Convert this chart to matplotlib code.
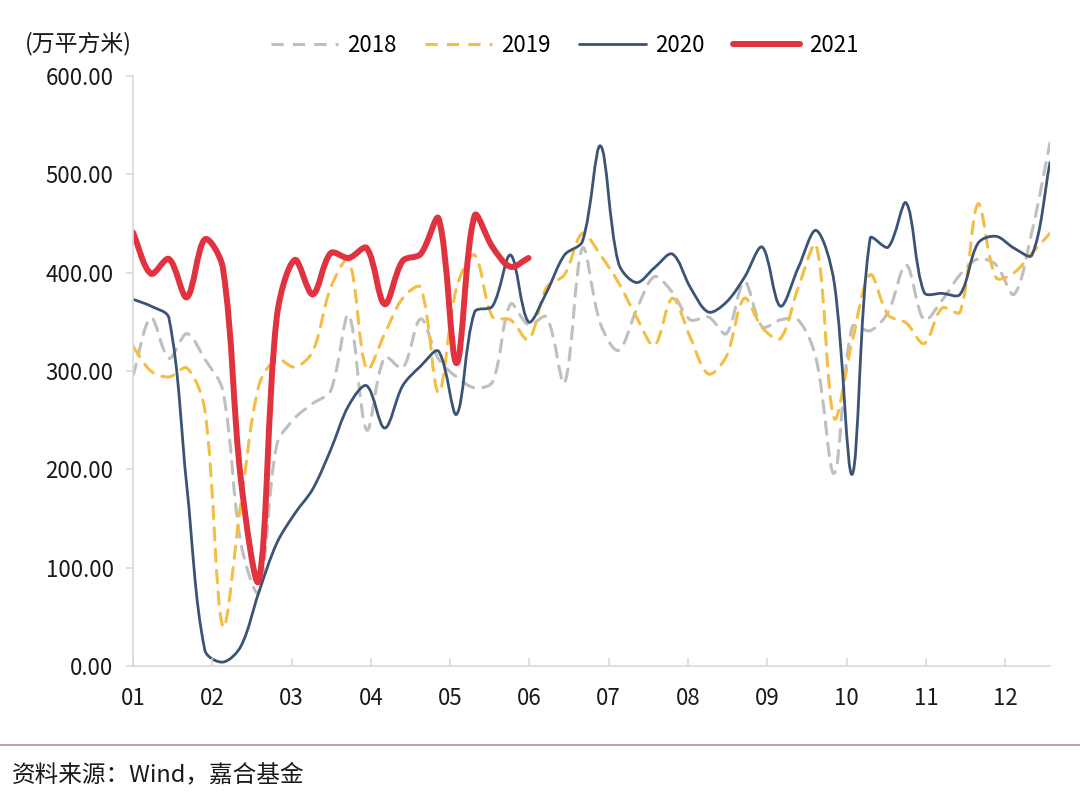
"""
plot.py

Weekly floor-area sales (万平方米), 2018-2021, smoothed lines as in the
original Excel chart. Saves out.png.
"""

import matplotlib
matplotlib.use("Agg")
import matplotlib.pyplot as plt
import numpy as np
from matplotlib.lines import Line2D
from matplotlib.patches import PathPatch
from matplotlib.path import Path

plt.rcParams["font.family"] = ["Noto Sans CJK SC", "DejaVu Sans"]

MONTH_LABELS = ["01", "02", "03", "04", "05", "06",
                "07", "08", "09", "10", "11", "12"]
WEEKS_PER_MONTH = 4.41
Y_TICKS = [0, 100, 200, 300, 400, 500, 600]

# weekly values
SALES_2018 = [295, 354, 313, 338, 312, 280, 125, 75, 225, 252,
              267, 280, 357, 240, 314, 303, 353, 312, 294, 283,
              289, 368, 347, 355, 288, 425, 348, 321, 362, 396,
              380, 352, 355, 338, 391, 345, 352, 352, 312, 196,
              345, 341, 360, 408, 352, 372, 398, 414, 408, 378,
              442, 532]
SALES_2019 = [325, 300, 294, 303, 260, 40, 165, 285, 312, 304,
              320, 385, 413, 302, 338, 374, 385, 278, 385, 418,
              355, 352, 332, 385, 398, 440, 418, 390, 355, 326,
              374, 334, 297, 315, 374, 344, 333, 385, 428, 252,
              330, 398, 357, 349, 328, 364, 360, 470, 395, 400,
              420, 440]
SALES_2020 = [373, 366, 354, 182, 16, 4, 20, 75, 125, 155,
              180, 220, 265, 285, 242, 285, 305, 320, 256, 360,
              366, 418, 350, 380, 418, 432, 529, 410, 390, 405,
              419, 385, 360, 370, 395, 426, 366, 405, 443, 390,
              195, 435, 426, 471, 380, 379, 378, 430, 437, 425,
              418, 512]
SALES_2021 = [441, 399, 414, 375, 434, 405, 190, 87, 355, 413,
              378, 420, 415, 425, 368, 412, 419, 455, 308, 458,
              426, 406, 415]

SERIES = [
    ("2018", SALES_2018, "#BFBFBF", 2.2, (0, (4, 3))),
    ("2019", SALES_2019, "#F4BE45", 2.2, (0, (4, 3))),
    ("2020", SALES_2020, "#3B5375", 2.0, "-"),
    ("2021", SALES_2021, "#E0323F", 4.3, "-"),
]

# rough pixel size of one week / one unit, used only to weight the smoothing
PX_PER_WEEK = 18.0
PX_PER_UNIT = 0.983


def smooth_path(values):
    """Bezier path through the weekly points, arms weighted by segment length."""
    y = np.asarray(values, dtype=float)
    pts = np.column_stack([np.arange(len(y), dtype=float), y])
    padded = np.vstack([pts[0], pts, pts[-1]])
    scale = np.array([PX_PER_WEEK, PX_PER_UNIT])
    seg = np.hypot(*((np.diff(padded, axis=0)) * scale).T)
    verts = [pts[0]]
    codes = [Path.MOVETO]
    for i in range(len(pts) - 1):
        p0, p1, p2, p3 = padded[i], padded[i + 1], padded[i + 2], padded[i + 3]
        d01, d12, d23 = seg[i], seg[i + 1], seg[i + 2]
        w1 = d12 / (d01 + d12) if d01 + d12 > 0 else 0.5
        w2 = d12 / (d12 + d23) if d12 + d23 > 0 else 0.5
        verts += [p1 + (p2 - p0) * w1 / 3, p2 - (p3 - p1) * w2 / 3, p2]
        codes += [Path.CURVE4] * 3
    return Path(verts, codes)


fig = plt.figure(figsize=(10.8, 7.98), dpi=100)
ax = fig.add_axes([0.1231, 0.1654, 0.8491, 0.7393])

handles = []
for label, values, color, lw, ls in SERIES:
    patch = PathPatch(smooth_path(values), fill=False, edgecolor=color,
                      linewidth=lw, linestyle=ls, capstyle="round",
                      joinstyle="round")
    ax.add_patch(patch)
    handles.append(Line2D([], [], color=color, linewidth=lw, linestyle=ls,
                          solid_capstyle="round"))

ax.set_xlim(0, len(SALES_2020) - 1)
ax.set_ylim(0, 600)
ax.set_xticks(np.arange(len(MONTH_LABELS)) * WEEKS_PER_MONTH)
ax.set_xticklabels(MONTH_LABELS)
ax.set_yticks(Y_TICKS)
ax.set_yticklabels([f"{v:.2f}" for v in Y_TICKS])

for side in ["top", "right"]:
    ax.spines[side].set_visible(False)
for side in ["left", "bottom"]:
    ax.spines[side].set_color("#D9D9D9")
    ax.spines[side].set_linewidth(1.2)

ax.tick_params(axis="y", direction="out", length=5, width=1.2,
               color="#D9D9D9", pad=9, labelsize=16, labelcolor="#1a1a1a")
ax.tick_params(axis="x", direction="in", length=6, width=1.2,
               color="#D9D9D9", pad=15, labelsize=16, labelcolor="#1a1a1a")

fig.text(25 / 1080, 1 - 44 / 798, "(万平方米)", ha="left", va="center",
         fontsize=16.5, color="#1a1a1a")

fig.legend(handles, [s[0] for s in SERIES], loc="center",
           bbox_to_anchor=(0.523, 1 - 45 / 798), ncol=4, frameon=False,
           fontsize=16, handlelength=3.0, handletextpad=0.4,
           columnspacing=1.3)

fig.add_artist(Line2D([0, 1], [1 - 745 / 798] * 2, transform=fig.transFigure,
                      color="#C98A8C", linewidth=1.2))
fig.text(12 / 1080, 1 - 775 / 798, "资料来源：Wind，嘉合基金", ha="left",
         va="center", fontsize=17, color="#1a1a1a")

fig.savefig("out.png", dpi=100)
plt.close(fig)
